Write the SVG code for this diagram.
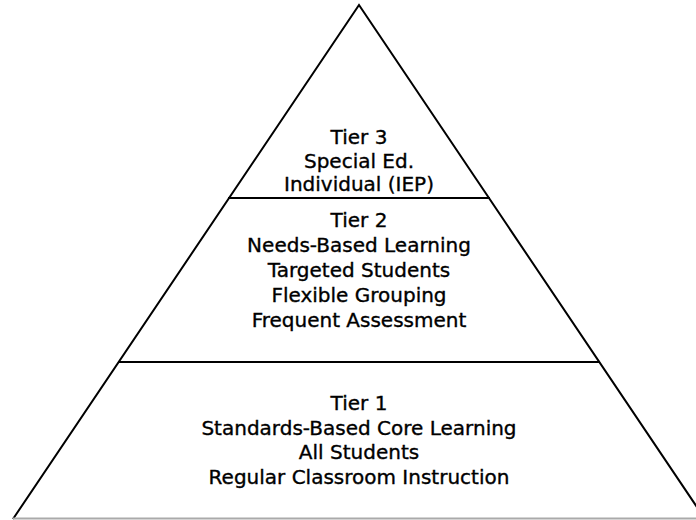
<svg xmlns="http://www.w3.org/2000/svg" width="696" height="520" viewBox="0 0 696 520">
<style>
.t{font-family:"DejaVu Sans","Liberation Sans",sans-serif;font-size:20px;fill:#000;stroke:#000;stroke-width:0.35;text-anchor:middle}
.ln{stroke:#000;stroke-width:2;fill:none}
</style>
<rect width="696" height="520" fill="#fff"/>
<g id="connectors">
<polyline class="ln" points="13,519 359,5 705,519"/>
<line x1="13" y1="518.5" x2="696" y2="518.5" stroke="#aaa" stroke-width="2"/>
</g>
<g id="tier3">
<text class="t" x="359" y="144">Tier 3</text>
<text class="t" x="359" y="168">Special Ed.</text>
<text class="t" x="359" y="191">Individual (IEP)</text>
</g>
<g id="divider1"><line class="ln" x1="228" y1="198" x2="490" y2="198"/></g>
<g id="tier2">
<text class="t" x="359" y="227">Tier 2</text>
<text class="t" x="359" y="252">Needs-Based Learning</text>
<text class="t" x="359" y="277">Targeted Students</text>
<text class="t" x="359" y="302">Flexible Grouping</text>
<text class="t" x="359" y="327">Frequent Assessment</text>
</g>
<g id="divider2"><line class="ln" x1="118" y1="362" x2="600" y2="362"/></g>
<g id="tier1">
<text class="t" x="359" y="410">Tier 1</text>
<text class="t" x="359" y="435">Standards-Based Core Learning</text>
<text class="t" x="359" y="459">All Students</text>
<text class="t" x="359" y="484">Regular Classroom Instruction</text>
</g>
</svg>
